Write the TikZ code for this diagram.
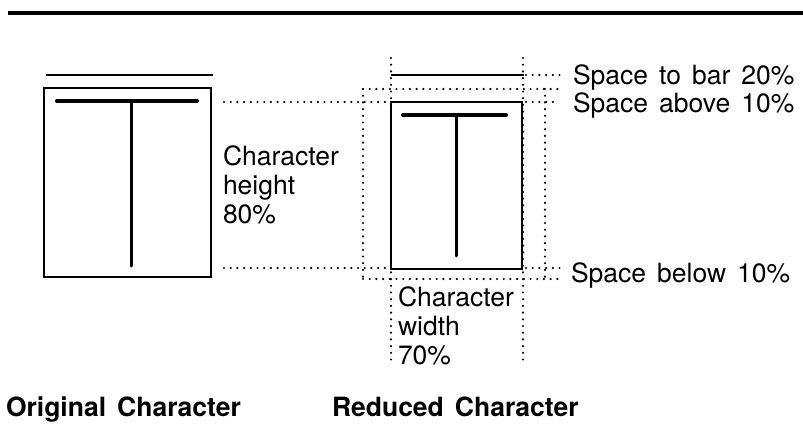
\documentclass[tikz,border=0pt]{standalone}
\usepackage{fontspec}
\setmainfont[WordSpace=1.5]{TeX Gyre Heros}
\begin{document}
\begin{tikzpicture}[x=1pt,y=-1pt,
  lbl/.style={inner sep=0pt,outer sep=0pt,anchor=base west,align=left,
    font=\fontsize{26.5}{28.6}\selectfont},
  title/.style={inner sep=0pt,outer sep=0pt,anchor=base west,
    font=\fontsize{26.5}{28.6}\selectfont\bfseries},
  dotline/.style={line width=2.4pt,line cap=round,dash pattern=on 0pt off 6.7pt},
  frame/.style={line width=2pt},
  overbar/.style={line width=2.6pt},
  tbar/.style={line width=4pt,line cap=round},
  tstem/.style={line width=3pt,line cap=round}]
\useasboundingbox (0,0) rectangle (803,423);
% top rule
\draw[line width=3.8pt] (8,13) -- (803,13);
% original character
\draw[overbar] (46,75) -- (213,75);
\draw[frame] (44,88) rectangle (211,277);
\draw[tbar] (57,100.5) -- (197,100.5);
\draw[tstem] (131.5,101) -- (131.5,266);
% coordinates
\coordinate (hl1) at (224,102);
\coordinate (hr1) at (389,102);
\coordinate (hl2) at (224,268);
\coordinate (hr2) at (389,268);
\coordinate (ot) at (363,89);
\coordinate (otr) at (545,89);
\coordinate (otx) at (563,89);
\coordinate (ob) at (363,279);
\coordinate (obr) at (545,279);
\coordinate (obx) at (562,279);
\coordinate (vlt) at (391,58);
\coordinate (vlb) at (391,365);
\coordinate (vrt) at (523,58);
\coordinate (vrb) at (523,363);
\coordinate (bar1) at (526,75);
\coordinate (bar2) at (563,75);
\coordinate (ab1) at (526,102);
\coordinate (ab2) at (557,102);
\coordinate (be1) at (526,268);
\coordinate (be2) at (562,268);
% dotted guides
\draw[dotline] (hl1) -- (hr1);
\draw[dotline] (hl2) -- (hr2);
\draw[dotline] (ot) -- (otx);
\draw[dotline] (ob) -- (obx);
\draw[dotline] (ot) -- (ob);
\draw[dotline] (otr) -- (obr);
\draw[dotline] (vlt) -- (vlb);
\draw[dotline] (vrt) -- (vrb);
\draw[dotline] (bar1) -- (bar2);
\draw[dotline] (ab1) -- (ab2);
\draw[dotline] (be1) -- (be2);
% reduced character
\draw[overbar] (391,75) -- (524,75);
\draw[frame,fill=white] (391,102) rectangle (522,269);
\draw[tbar] (403,115) -- (506,115);
\draw[tstem] (456,116) -- (456,256);
% labels
\node[lbl] (hgt) at (223,223) {Character\\height\\80\%};
\node[lbl] (wid) at (398,364) {Character\\width\\70\%};
\node[lbl] (sbar) at (573,84) {Space to bar 20\%};
\node[lbl] (sabove) at (573,112) {Space above 10\%};
\node[lbl] (sbelow) at (571,282) {Space below 10\%};
\node[title] (orig) at (6,416) {Original Character};
\node[title] (red) at (332,416) {Reduced Character};
\end{tikzpicture}
\end{document}
